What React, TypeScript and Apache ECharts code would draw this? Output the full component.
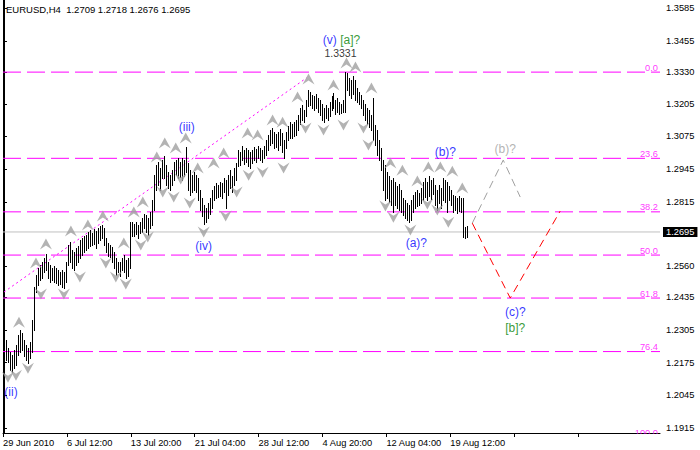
import React, { useEffect, useRef } from "react";
import * as echarts from "echarts";

const FONT = "'Liberation Sans', Arial, sans-serif";

const headerText = "EURUSD,H4  1.2709 1.2718 1.2676 1.2695";

const timeLabels = [
  "29 Jun 2010", "6 Jul 12:00", "13 Jul 20:00", "21 Jul 04:00",
  "28 Jul 12:00", "4 Aug 20:00", "12 Aug 04:00", "19 Aug 12:00",
];

const priceTicks = [
  1.3585, 1.3455, 1.333, 1.3205, 1.3075, 1.2945, 1.2815,
  1.256, 1.2435, 1.2305, 1.2175, 1.2045, 1.1915,
];

const highs = [
  1.2285, 1.2265, 1.2233, 1.2217, 1.2205, 1.2225, 1.2245, 1.2285, 1.2305, 1.2293, 1.2265, 1.2245, 1.2233, 1.2257, 1.2344, 1.2476,
  1.2523, 1.2551, 1.2563, 1.2575, 1.2591, 1.2607, 1.2575, 1.2563, 1.2551, 1.2559, 1.2551, 1.2543, 1.2535, 1.2543, 1.2535, 1.2575,
  1.2643, 1.2655, 1.2623, 1.2615, 1.2631, 1.2639, 1.2663, 1.2671, 1.2679, 1.2683, 1.2695, 1.2703, 1.2691, 1.2707, 1.2699, 1.2711,
  1.2718, 1.2722, 1.2711, 1.2671, 1.2651, 1.2643, 1.2635, 1.2615, 1.2591, 1.2575, 1.2575, 1.2591, 1.2603, 1.2583, 1.2591, 1.2734,
  1.2734, 1.2726, 1.2734, 1.2722, 1.2734, 1.275, 1.2766, 1.2762, 1.275, 1.2774, 1.2822, 1.2921, 1.2961, 1.2973, 1.2949, 1.2981,
  1.2997, 1.2961, 1.2933, 1.2921, 1.2941, 1.2973, 1.2981, 1.2989, 1.2973, 1.2989, 1.2981, 1.3033, 1.2969, 1.2941, 1.2921, 1.2933,
  1.2921, 1.2909, 1.2862, 1.283, 1.2802, 1.279, 1.281, 1.283, 1.2862, 1.2878, 1.289, 1.2882, 1.2894, 1.289, 1.291, 1.2902,
  1.2921, 1.2941, 1.2917, 1.2949, 1.2969, 1.3021, 1.3013, 1.3037, 1.3021, 1.3029, 1.3021, 1.3013, 1.3021, 1.3033, 1.3025, 1.3037,
  1.3029, 1.3021, 1.3037, 1.3061, 1.3081, 1.3101, 1.3109, 1.3093, 1.3085, 1.3093, 1.3105, 1.3089, 1.3061, 1.3093, 1.3116, 1.3132,
  1.3124, 1.3132, 1.314, 1.316, 1.3188, 1.32, 1.318, 1.322, 1.326, 1.3252, 1.324, 1.3236, 1.3244, 1.3228, 1.322, 1.3204,
  1.3188, 1.32, 1.3188, 1.3212, 1.3236, 1.3248, 1.322, 1.3228, 1.3212, 1.3204, 1.322, 1.3331, 1.3327, 1.3307, 1.3299, 1.3315,
  1.3299, 1.3268, 1.3252, 1.324, 1.322, 1.3204, 1.3188, 1.318, 1.316, 1.3228, 1.312, 1.3101, 1.3061, 1.3029, 1.2981, 1.2961,
  1.2933, 1.2917, 1.2902, 1.291, 1.2894, 1.2878, 1.2886, 1.2862, 1.283, 1.2822, 1.281, 1.2802, 1.2822, 1.2842, 1.2854, 1.2862,
  1.285, 1.287, 1.2894, 1.2909, 1.2894, 1.2917, 1.2902, 1.2909, 1.2882, 1.2862, 1.2882, 1.287, 1.2909, 1.2902, 1.2894, 1.2878,
  1.2862, 1.2842, 1.2838, 1.283, 1.2838, 1.283, 1.283, 1.2714, 1.2718,
];

const lows = [
  1.2225, 1.2185, 1.2177, 1.2145, 1.2137, 1.2153, 1.2165, 1.2205, 1.2217, 1.2225, 1.2201, 1.2185, 1.2173, 1.2193, 1.2217, 1.2305,
  1.2456, 1.2484, 1.2504, 1.2512, 1.2535, 1.2543, 1.2512, 1.2496, 1.2504, 1.2496, 1.2492, 1.2484, 1.2488, 1.2476, 1.2472, 1.2496,
  1.2563, 1.2575, 1.2551, 1.2543, 1.2563, 1.2575, 1.2591, 1.2603, 1.2615, 1.2623, 1.2631, 1.2639, 1.2643, 1.2647, 1.2631, 1.2651,
  1.2663, 1.2671, 1.2643, 1.2615, 1.2599, 1.2595, 1.2575, 1.2551, 1.2523, 1.2535, 1.2519, 1.2543, 1.2535, 1.2511, 1.2519, 1.2551,
  1.2679, 1.2679, 1.2687, 1.2671, 1.2691, 1.2695, 1.2711, 1.2695, 1.2683, 1.2711, 1.2722, 1.2782, 1.2862, 1.2882, 1.2862, 1.291,
  1.291, 1.2882, 1.287, 1.2862, 1.2882, 1.2902, 1.2921, 1.291, 1.2913, 1.2902, 1.2917, 1.2933, 1.2862, 1.2842, 1.2854, 1.2862,
  1.2854, 1.2822, 1.2782, 1.2758, 1.2726, 1.2734, 1.275, 1.2766, 1.279, 1.2822, 1.283, 1.2834, 1.2838, 1.283, 1.2854, 1.279,
  1.2842, 1.287, 1.2854, 1.2882, 1.2902, 1.2957, 1.2961, 1.2981, 1.2965, 1.2973, 1.2957, 1.2949, 1.2969, 1.2981, 1.2973, 1.2989,
  1.2981, 1.2973, 1.2989, 1.3001, 1.3021, 1.3041, 1.3049, 1.3029, 1.3033, 1.3021, 1.3041, 1.3013, 1.2989, 1.3029, 1.3061, 1.3069,
  1.3069, 1.3077, 1.3081, 1.3101, 1.3124, 1.314, 1.3132, 1.3156, 1.3196, 1.32, 1.3188, 1.318, 1.3188, 1.3172, 1.316, 1.314,
  1.3132, 1.3148, 1.314, 1.3156, 1.318, 1.3188, 1.3164, 1.3172, 1.3164, 1.3168, 1.3172, 1.3172, 1.326, 1.324, 1.3228, 1.3244,
  1.322, 1.3212, 1.3204, 1.3188, 1.316, 1.314, 1.3124, 1.3113, 1.3101, 1.3061, 1.3041, 1.3001, 1.2981, 1.2941, 1.2862, 1.2822,
  1.283, 1.2814, 1.2802, 1.2774, 1.2802, 1.279, 1.2782, 1.2774, 1.2762, 1.275, 1.2742, 1.2734, 1.2742, 1.2774, 1.279, 1.2798,
  1.2802, 1.281, 1.2822, 1.2834, 1.2822, 1.2838, 1.2826, 1.2846, 1.2802, 1.2782, 1.281, 1.279, 1.2822, 1.2814, 1.2774, 1.2822,
  1.2802, 1.2774, 1.2782, 1.277, 1.2778, 1.2774, 1.2675, 1.2671, 1.2676,
];

// fractal marks: [bar index, price of mark]
const upFractals = [
  [7.5, 1.2336], [16, 1.2571], [21, 1.2647], [33.5, 1.2699], [42, 1.2723], [49.5, 1.2758],
  [60, 1.2651], [65, 1.2774], [69.5, 1.2814], [76.5, 1.2993], [80.5, 1.3049], [86, 1.3029],
  [91, 1.3069], [97, 1.2949], [105, 1.2969], [110, 1.3009], [122, 1.3089], [127, 1.3081],
  [134.5, 1.314], [139.5, 1.3132], [147, 1.3232], [152.5, 1.3304], [165, 1.328], [171.5, 1.3367],
  [176, 1.3351], [184, 1.3268], [193.5, 1.2969], [199.5, 1.2941], [207, 1.2898], [212.5, 1.2953],
  [218.5, 1.2953], [224.5, 1.2937], [229.5, 1.287],
];
const downFractals = [
  [2, 1.2117], [6, 1.2125], [12, 1.2153], [18.5, 1.2448], [30, 1.2448], [38, 1.2516],
  [51, 1.2571], [56, 1.2516], [61, 1.2488], [68.5, 1.2643], [72, 1.2675], [79.5, 1.2854],
  [85, 1.2834], [88.5, 1.2906], [93, 1.281], [100, 1.2695], [111, 1.2758], [116.5, 1.2854],
  [122.5, 1.2921], [129.5, 1.2933], [140, 1.2949], [151, 1.3109], [160, 1.3101], [170, 1.3121],
  [180, 1.3109], [182.5, 1.3041], [191, 1.2798], [195, 1.2754], [203.5, 1.2703], [212, 1.2806],
  [217, 1.2782], [222.5, 1.2734],
];

const fibLevels = [1.3331, 1.2988, 1.2775, 1.2603, 1.2432, 1.2219, 1.1876];
const fibNames = ["0.0", "23.6", "38.2", "50.0", "61.8", "76.4", "100.0"];

const currentPrice = 1.2695;

const trendLine = [[0, 1.2456], [151.5, 1.3308]];
const projectionB = [[234.5, 1.273], [250, 1.2981], [258.5, 1.2834]];
const projectionC = [[234.5, 1.273], [253.5, 1.2432], [278.5, 1.2778]];

// wave labels: [bar index, price, text, color]
const waveLabels: [number, number, string, string][] = [
  [3.5, 1.2058, "(ii)", "#0000FF"],
  [91.5, 1.3112, "(iii)", "#0000FF"],
  [100, 1.2639, "(iv)", "#0000FF"],
  [221, 1.3013, "(b)?", "#0000FF"],
  [206.5, 1.2651, "(a)?", "#0000FF"],
  [251, 1.3025, "(b)?", "#A0A0A0"],
  [256, 1.2376, "(c)?", "#0000FF"],
  [256, 1.2312, "[b]?", "#008000"],
];
const topLabel = [169, 1.3459];
const topPrice = [168.5, 1.3407, "1.3331"];

const X_MIN = -0.5;
const X_MAX = 328.5;
const Y_MIN = 1.1895;
const Y_MAX = 1.3618;

const UP_PATH = "path://M6,0 L12,11 L6,7 L0,11 Z";
const DOWN_PATH = "path://M0,0 L6,4 L12,0 L6,11 Z";

export default function App() {
  const ref = useRef<HTMLDivElement>(null);
  useEffect(() => {
    if (!ref.current) return;
    const chart = echarts.init(ref.current, undefined, { renderer: "svg" });

    const fibSeries = fibLevels.map((lv) => ({
      type: "line",
      data: [[X_MIN, lv], [X_MAX, lv]],
      symbol: "none",
      clip: true,
      silent: true,
      lineStyle: { color: "#FF00FF", width: 1, type: [18, 6] },
      z: 1,
    }));

    const option: any = {
      animation: false,
      backgroundColor: "#ffffff",
      textStyle: { fontFamily: FONT },
      grid: { left: 2, right: 40, top: 0, bottom: 17, show: false },
      graphic: [
        {
          type: "text",
          left: 6,
          top: 4,
          style: { text: headerText, fontSize: 9.5, fontFamily: FONT, fill: "#000" },
        },
        {
          type: "rect",
          shape: { x: 600, y: 434, width: 58, height: 8 },
          style: { fill: "#fff" },
          z: 100,
        },
      ],
      xAxis: {
        type: "value",
        min: X_MIN,
        max: X_MAX,
        interval: 32,
        splitLine: { show: false },
        axisLine: { show: true, lineStyle: { color: "#000", width: 1 } },
        axisTick: { show: true, length: 4, lineStyle: { color: "#000" } },
        axisLabel: {
          show: true,
          align: "left",
          margin: 5,
          fontSize: 9.3,
          fontFamily: FONT,
          color: "#000",
          showMaxLabel: false,
          formatter: (v: number) => {
            const k = Math.round((v + 0.5) / 32);
            return Math.abs(k * 32 - 0.5 - v) < 0.01 && timeLabels[k] ? timeLabels[k] : "";
          },
        },
      },
      yAxis: [
        {
          type: "value",
          position: "right",
          min: Y_MIN,
          max: Y_MAX,
          splitLine: { show: false },
          axisLine: { show: true, lineStyle: { color: "#000", width: 1 } },
          axisTick: { show: true, length: 3, inside: false, customValues: priceTicks, lineStyle: { color: "#000" } },
          axisLabel: {
            show: true,
            margin: 6,
            fontSize: 9.3,
            fontFamily: FONT,
            color: "#000",
            customValues: priceTicks,
            formatter: (v: number) => v.toFixed(4),
          },
        },
        {
          type: "value",
          position: "left",
          min: Y_MIN,
          max: Y_MAX,
          splitLine: { show: false },
          axisLine: { show: true, lineStyle: { color: "#000", width: 1 } },
          axisTick: { show: false },
          axisLabel: { show: false },
        },
      ],
      series: [
        ...fibSeries,
        {
          type: "scatter",
          symbolSize: 0,
          silent: true,
          clip: false,
          z: 6,
          data: fibLevels.map((lv, k) => ({
            value: [X_MAX, lv],
            label: {
              show: true,
              formatter: fibNames[k],
              position: "inside",
              align: "right",
              verticalAlign: "bottom",
              offset: [-2, 0],
              color: "#FF00FF",
              fontSize: 9.3,
              fontFamily: FONT,
            },
          })),
        },
        {
          type: "line",
          data: trendLine,
          symbol: "none",
          lineStyle: { color: "#FF00FF", width: 1, type: [2, 3] },
          z: 1,
        },
        {
          type: "custom",
          z: 3,
          renderItem: (params: any, api: any) => {
            const i = api.value(0);
            const p1 = api.coord([i, api.value(1)]);
            const p2 = api.coord([i, api.value(2)]);
            const x = Math.round(p1[0]) + 0.5;
            return {
              type: "line",
              shape: { x1: x, y1: Math.round(p1[1]), x2: x, y2: Math.round(p2[1]) + 1 },
              style: { stroke: "#000", lineWidth: 1 },
            };
          },
          encode: { x: 0, y: [1, 2] },
          data: highs.map((h, i) => [i, h, lows[i]]),
        },
        {
          type: "line",
          data: [[X_MIN, currentPrice], [X_MAX, currentPrice]],
          symbol: "none",
          silent: true,
          lineStyle: { color: "#C0C0C0", width: 1, type: "solid" },
          z: 2,
          endLabel: {
            show: true,
            distance: 3,
            color: "#fff",
            backgroundColor: "#000",
            padding: [1, 3, 0, 3],
            fontSize: 9.3,
            fontFamily: FONT,
            formatter: currentPrice.toFixed(4),
          },
        },
        {
          type: "scatter",
          data: upFractals,
          symbol: UP_PATH,
          symbolSize: [12, 11],
          itemStyle: { color: "#A0A0A0" },
          z: 4,
        },
        {
          type: "scatter",
          data: downFractals,
          symbol: DOWN_PATH,
          symbolSize: [12, 11],
          itemStyle: { color: "#A0A0A0" },
          z: 4,
        },
        {
          type: "line",
          data: projectionB,
          symbol: "none",
          lineStyle: { color: "#A0A0A0", width: 1, type: [8, 5] },
          z: 2,
        },
        {
          type: "line",
          data: projectionC,
          symbol: "none",
          lineStyle: { color: "#FF0000", width: 1, type: [8, 5] },
          z: 2,
        },
        {
          type: "scatter",
          symbolSize: 0,
          z: 5,
          label: { show: true, position: "inside", fontSize: 12, fontFamily: FONT },
          data: [
            ...waveLabels.map((w) => ({
              value: [w[0], w[1]],
              label: { formatter: w[2], color: w[3] },
            })),
            {
              value: topLabel,
              label: {
                formatter: "{b|(v)} {g|[a]?}",
                rich: {
                  b: { color: "#0000FF", fontSize: 12, fontFamily: FONT },
                  g: { color: "#008000", fontSize: 12, fontFamily: FONT },
                },
              },
            },
            {
              value: [topPrice[0], topPrice[1]],
              label: { formatter: topPrice[2], color: "#000", fontSize: 10.5 },
            },
          ],
        },
      ],
    };
    chart.setOption(option);
    return () => chart.dispose();
  }, []);
  return (
    <div
      ref={ref}
      style={{ position: "fixed", left: 0, top: 0, width: 700, height: 450, background: "#fff" }}
    />
  );
}
